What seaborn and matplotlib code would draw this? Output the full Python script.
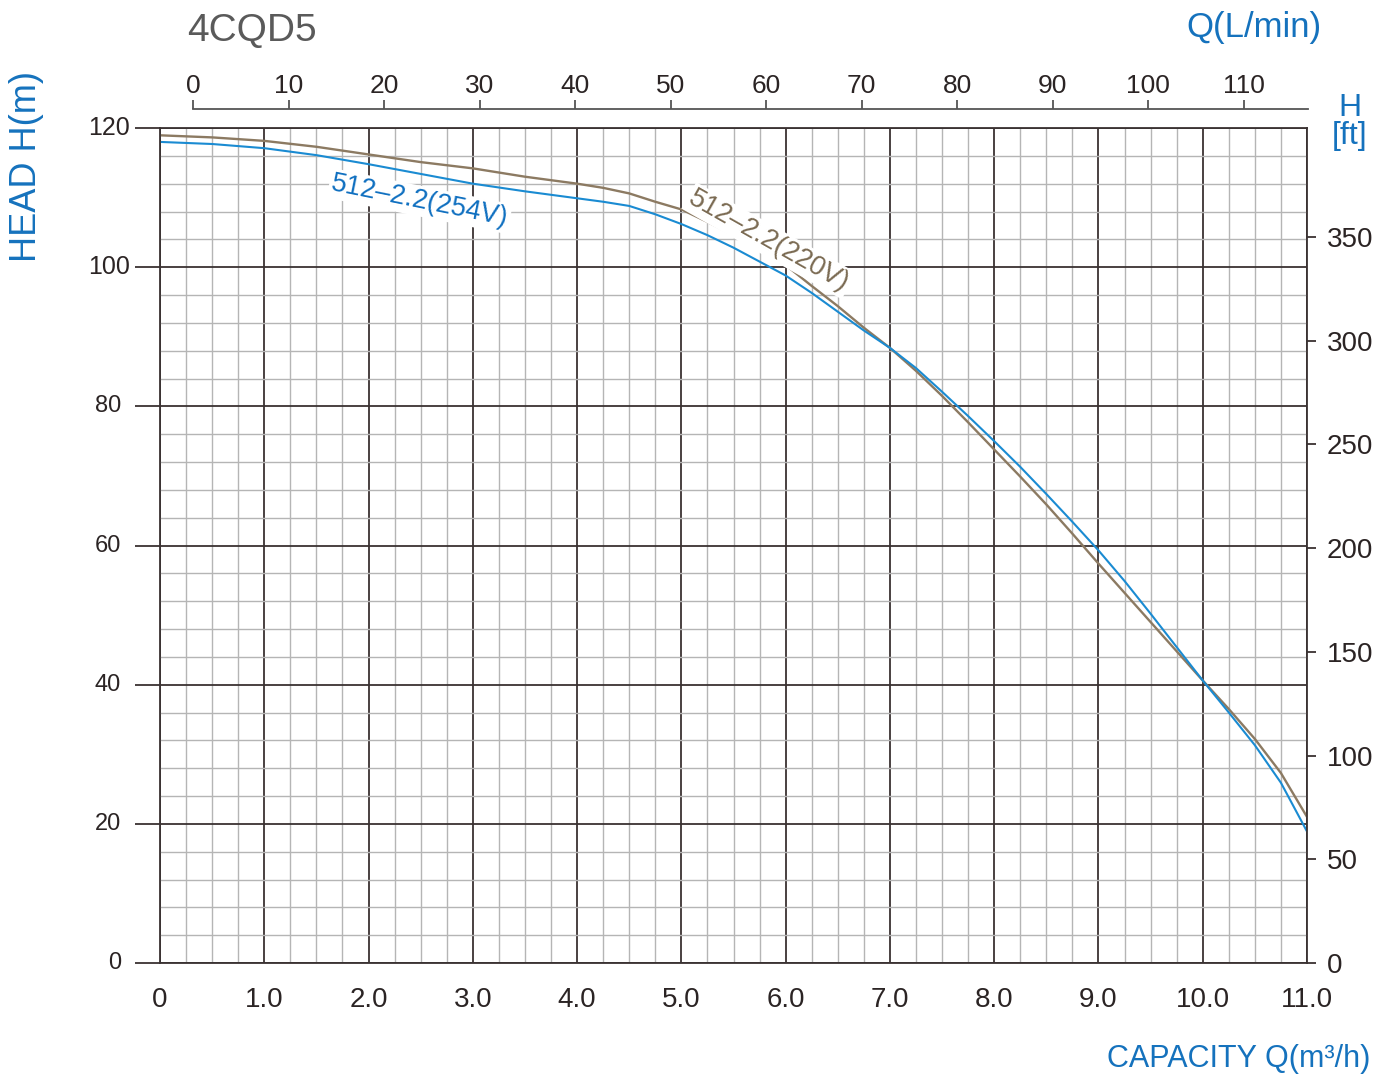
import numpy as np
import matplotlib
matplotlib.use("Agg")
import matplotlib.pyplot as plt
import seaborn as sns

# ----- style -----
sns.set_style("white")
plt.rcParams["font.family"] = ["Liberation Sans", "DejaVu Sans"]

# ----- data -----
q_m3h = [0, 0.5, 1, 1.5, 2, 2.5, 3, 3.5, 4, 4.25, 4.5, 4.75, 5, 5.25, 5.5, 5.75, 6, 6.25, 6.5, 6.75,
         7, 7.25, 7.5, 7.75, 8, 8.25, 8.5, 8.75, 9, 9.25, 9.5, 9.75, 10, 10.25, 10.5, 10.75, 11]
head_220v = [118.95, 118.65, 118.15, 117.3, 116.2, 115.1, 114.2, 113.0, 112.0, 111.4, 110.6, 109.4,
             108.3, 106.5, 104.6, 102.5, 100.3, 97.3, 94.4, 91.3, 88.4, 85.1, 81.5, 77.7, 73.8, 69.9,
             65.9, 61.7, 57.4, 53.2, 49.0, 44.8, 40.6, 36.5, 32.2, 27.3, 21.0]
head_254v = [118.0, 117.7, 117.1, 116.1, 114.8, 113.4, 112.0, 110.9, 109.9, 109.4, 108.8, 107.6,
             106.2, 104.6, 102.8, 100.8, 98.8, 96.3, 93.6, 90.9, 88.4, 85.5, 82.1, 78.6, 75.0, 71.3,
             67.4, 63.4, 59.3, 54.9, 50.2, 45.4, 40.6, 36.0, 31.3, 25.9, 18.9]

x_ticks = [0, 1, 2, 3, 4, 5, 6, 7, 8, 9, 10, 11]
x_labels = ["0", "1.0", "2.0", "3.0", "4.0", "5.0", "6.0", "7.0", "8.0", "9.0", "10.0", "11.0"]
y_ticks = [0, 20, 40, 60, 80, 100, 120]
ft_ticks = [0, 50, 100, 150, 200, 250, 300, 350]
lmin_ticks = [0, 10, 20, 30, 40, 50, 60, 70, 80, 90, 100, 110]

ft_per_m = 3.355  # as drawn on the right scale

blue = "#1a8bd2"
brown = "#8c7a62"
text_blue = "#1572bd"
dark = "#3a3232"
minor_grey = "#b5b5b5"
label_col = "#2b2424"

PX = 0.72  # points per pixel at dpi 100

fig = plt.figure(figsize=(13.92, 10.77), dpi=100)
W, H = 1392, 1077
ax = fig.add_axes([160 / W, 1 - 963 / H, (1307 - 160) / W, (963 - 128) / H])

sns.lineplot(x=q_m3h, y=head_220v, ax=ax, color=brown, linewidth=1.7, solid_joinstyle="round")
sns.lineplot(x=q_m3h, y=head_254v, ax=ax, color=blue, linewidth=1.5, solid_joinstyle="round")

ax.set_xlim(0, 11)
ax.set_ylim(0, 120)
ax.set_xticks(x_ticks)
ax.set_xticklabels(x_labels)
ax.set_xticks(np.arange(0, 11.01, 0.25), minor=True)
ax.set_yticks(y_ticks)
ax.set_yticks(np.arange(0, 120.01, 4), minor=True)

ax.grid(which="minor", color=minor_grey, linewidth=1.0)
ax.grid(which="major", color=dark, linewidth=1.3)
ax.set_axisbelow(True)
for s in ax.spines.values():
    s.set_color(dark)
    s.set_linewidth(1.3)

ax.tick_params(axis="x", which="major", length=21 * PX, width=1.3, color=dark, pad=3 * PX,
               labelsize=20, labelcolor=label_col)
ax.tick_params(axis="y", which="major", length=25 * PX, width=1.3, color=dark, labelleft=False)
ax.tick_params(which="minor", length=0)

# head labels: upper two regular, the rest smaller and set further out
for v in y_ticks:
    if v >= 100:
        ax.annotate(str(v), xy=(0, v), xycoords=("axes fraction", "data"),
                    xytext=(-30 * PX, 0), textcoords="offset points",
                    ha="right", va="center", fontsize=18, color=label_col)
    else:
        ax.annotate(str(v), xy=(0, v), xycoords=("axes fraction", "data"),
                    xytext=(-39 * PX, 0), textcoords="offset points",
                    ha="right", va="center", fontsize=17, color=label_col)

# right axis in feet
ax2 = ax.twinx()
ax2.set_ylim(0, 120 * ft_per_m)
ax2.set_yticks(ft_ticks)
ax2.set_yticklabels([str(v) for v in ft_ticks])
ax2.tick_params(axis="y", length=9 * PX, width=1.3, color=dark, pad=11 * PX, labelsize=20,
                labelcolor=label_col)
ax2.grid(False)
for s in ax2.spines.values():
    s.set_visible(False)

# top axis in L/min
top = fig.add_axes([193 / W, 1 - 109 / H - 0.001, (1308 - 193) / W, 0.001])
top.set_xlim(0, (1308 - 193) / 9.55)
top.set_ylim(0, 1)
top.set_xticks(lmin_ticks)
top.set_xticklabels([str(v) for v in lmin_ticks])
top.set_yticks([])
top.xaxis.set_ticks_position("top")
top.tick_params(axis="x", length=9 * PX, width=1.3, color="#555555", pad=2 * PX, labelsize=19,
                labelcolor=label_col)
for name, s in top.spines.items():
    s.set_visible(name == "top")
top.spines["top"].set_color("#555555")
top.spines["top"].set_linewidth(1.3)
top.patch.set_alpha(0)

# curve labels
ax.text(2.49, 109.5, "512–2.2(254V)", color="#0f6fc0", fontsize=19.5, rotation=-11.4,
        ha="center", va="center", rotation_mode="anchor",
        bbox=dict(facecolor="white", edgecolor="none", pad=1.5))
ax.text(5.84, 103.8, "512–2.2(220V)", color="#7a6a52", fontsize=19.5, rotation=-29.5,
        ha="center", va="center", rotation_mode="anchor",
        bbox=dict(facecolor="white", edgecolor="none", pad=1.5))

# titles and axis names
fig.text(187 / W, 1 - 41.5 / H, "4CQD5", ha="left", va="baseline", fontsize=28, color="#5a5a5a")
fig.text(1322 / W, 1 - 37 / H, "Q(L/min)", ha="right", va="baseline", fontsize=25, color=text_blue)
fig.text(27 / W, 1 - 166 / H, "HEAD H(m)", ha="center", va="center", rotation=90, fontsize=26,
         color=text_blue)
fig.text(1370 / W, 1 - 1067 / H, "CAPACITY Q(m³/h)", ha="right", va="baseline", fontsize=22,
         color=text_blue)
fig.text(1350 / W, 1 - 116 / H, "H", ha="center", va="baseline", fontsize=23, color=text_blue)
fig.text(1350 / W, 1 - 136 / H, "[ft]", ha="center", va="center", fontsize=23, color=text_blue)

fig.savefig("out.png", dpi=100, facecolor="white")
